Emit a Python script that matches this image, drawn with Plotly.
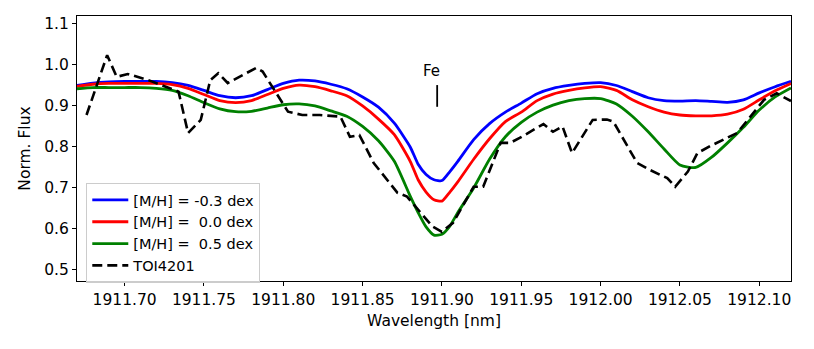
import plotly.graph_objects as go

# model grid (nm) and synthetic spectra for three metallicities
WL_MODEL = [1911.67, 1911.68, 1911.69, 1911.70, 1911.71, 1911.72, 1911.73, 1911.74,
            1911.75, 1911.76, 1911.77, 1911.78, 1911.79, 1911.80, 1911.81, 1911.82,
            1911.83, 1911.84, 1911.85, 1911.86, 1911.87, 1911.88, 1911.885, 1911.89,
            1911.895, 1911.90, 1911.905, 1911.91, 1911.92, 1911.93, 1911.94, 1911.95,
            1911.96, 1911.97, 1911.98, 1911.99, 1912.00, 1912.01, 1912.02, 1912.03,
            1912.04, 1912.05, 1912.06, 1912.07, 1912.08, 1912.09, 1912.10, 1912.11,
            1912.12]
FLUX_M03 = [0.950, 0.956, 0.959, 0.960, 0.960, 0.960, 0.957, 0.950,
            0.938, 0.925, 0.920, 0.925, 0.940, 0.955, 0.963, 0.961,
            0.953, 0.942, 0.922, 0.897, 0.858, 0.800, 0.758, 0.733,
            0.720, 0.718, 0.740, 0.765, 0.818, 0.857, 0.885, 0.907,
            0.930, 0.943, 0.950, 0.955, 0.957, 0.950, 0.935, 0.920,
            0.913, 0.912, 0.913, 0.911, 0.909, 0.915, 0.932, 0.947,
            0.960]
FLUX_00 = [0.948, 0.953, 0.955, 0.955, 0.955, 0.955, 0.952, 0.943,
           0.928, 0.913, 0.908, 0.913, 0.928, 0.943, 0.951, 0.947,
           0.937, 0.925, 0.900, 0.868, 0.830, 0.765, 0.720, 0.690,
           0.671, 0.668, 0.690, 0.715, 0.770, 0.820, 0.862, 0.885,
           0.913, 0.929, 0.938, 0.944, 0.947, 0.938, 0.915, 0.898,
           0.885, 0.878, 0.876, 0.876, 0.880, 0.892, 0.915, 0.937,
           0.955]
FLUX_05 = [0.942, 0.945, 0.945, 0.945, 0.945, 0.943, 0.938, 0.925,
           0.908, 0.893, 0.886, 0.887, 0.895, 0.903, 0.905, 0.900,
           0.888, 0.875, 0.850, 0.815, 0.765, 0.680, 0.640, 0.605,
           0.585, 0.587, 0.607, 0.640, 0.700, 0.770, 0.825, 0.860,
           0.885, 0.902, 0.913, 0.918, 0.918, 0.905, 0.875, 0.837,
           0.795, 0.756, 0.750, 0.775, 0.810, 0.848, 0.890, 0.922,
           0.944]

# observed spectrum
WL_OBS = [1911.676, 1911.689, 1911.695, 1911.702, 1911.715, 1911.734, 1911.740, 1911.748,
          1911.754, 1911.759, 1911.765, 1911.783, 1911.787, 1911.803, 1911.812, 1911.823,
          1911.836, 1911.842, 1911.848, 1911.857, 1911.872, 1911.878, 1911.894, 1911.900,
          1911.907, 1911.920, 1911.926, 1911.937, 1911.943, 1911.949, 1911.964, 1911.970,
          1911.976, 1911.982, 1911.995, 1912.004, 1912.008, 1912.023, 1912.031, 1912.042,
          1912.047, 1912.055, 1912.061, 1912.069, 1912.086, 1912.103, 1912.111, 1912.120]
FLUX_OBS = [0.878, 1.024, 0.971, 0.978, 0.963, 0.935, 0.834, 0.866,
            0.963, 0.980, 0.956, 0.993, 0.984, 0.886, 0.878, 0.878,
            0.874, 0.825, 0.829, 0.761, 0.688, 0.679, 0.606, 0.593,
            0.615, 0.703, 0.703, 0.810, 0.810, 0.822, 0.856, 0.837,
            0.850, 0.785, 0.866, 0.867, 0.862, 0.761, 0.744, 0.724,
            0.703, 0.740, 0.785, 0.802, 0.834, 0.915, 0.931, 0.912]

FE_WL = 1911.897
FE_MARK = [0.898, 0.951]

FONT = "DejaVu Sans"
TICK_SIZE = 15.5

fig = go.Figure()
for flux, color, name in [
    (FLUX_M03, "blue", "[M/H] = -0.3 dex"),
    (FLUX_00, "red", "[M/H] =  0.0 dex"),
    (FLUX_05, "green", "[M/H] =  0.5 dex"),
]:
    fig.add_trace(go.Scatter(
        x=WL_MODEL, y=flux, mode="lines", name=name,
        line=dict(color=color, width=2.8, shape="spline", smoothing=0.6),
    ))
fig.add_trace(go.Scatter(
    x=WL_OBS, y=FLUX_OBS, mode="lines", name="TOI4201",
    line=dict(color="black", width=2.6, dash="10px,5px"),
))
# Fe line marker
fig.add_trace(go.Scatter(
    x=[FE_WL, FE_WL], y=FE_MARK, mode="lines", showlegend=False,
    line=dict(color="black", width=1.8),
))
fig.add_annotation(x=1911.8935, y=0.985, text="Fe", showarrow=False,
                   font=dict(family=FONT, size=15, color="black"))

fig.update_xaxes(
    range=[1911.67, 1912.12], tickmode="linear", tick0=1911.70, dtick=0.05,
    tickformat=".2f",
    title=dict(text="Wavelength [nm]", standoff=7,
               font=dict(family=FONT, size=TICK_SIZE, color="black")),
    tickfont=dict(family=FONT, size=TICK_SIZE, color="black"),
    showline=True, linecolor="black", linewidth=1, mirror=True,
    ticks="outside", ticklen=4, tickcolor="black",
    showgrid=False, zeroline=False, automargin=False,
)
fig.update_yaxes(
    range=[0.473, 1.1195], tickmode="linear", tick0=0.5, dtick=0.1,
    tickformat=".1f",
    title=dict(text="Norm. Flux", standoff=9,
               font=dict(family=FONT, size=TICK_SIZE, color="black")),
    tickfont=dict(family=FONT, size=TICK_SIZE, color="black"),
    showline=True, linecolor="black", linewidth=1, mirror=True,
    ticks="outside", ticklen=4, tickcolor="black",
    showgrid=False, zeroline=False, automargin=False,
)
# the page body adds an 8px offset, so the margins are shifted to compensate
fig.update_layout(
    width=814, height=349,
    margin=dict(l=69, r=31, t=8, b=76),
    plot_bgcolor="white", paper_bgcolor="white",
    font=dict(family=FONT, size=TICK_SIZE, color="black"),
    legend=dict(
        x=0.013, y=0.37, xanchor="left", yanchor="top",
        bgcolor="rgba(255,255,255,0.8)", bordercolor="#cccccc", borderwidth=1,
        font=dict(family=FONT, size=14.5, color="black"),
        itemwidth=36, tracegroupgap=0,
    ),
)
fig.write_html("out.html")
